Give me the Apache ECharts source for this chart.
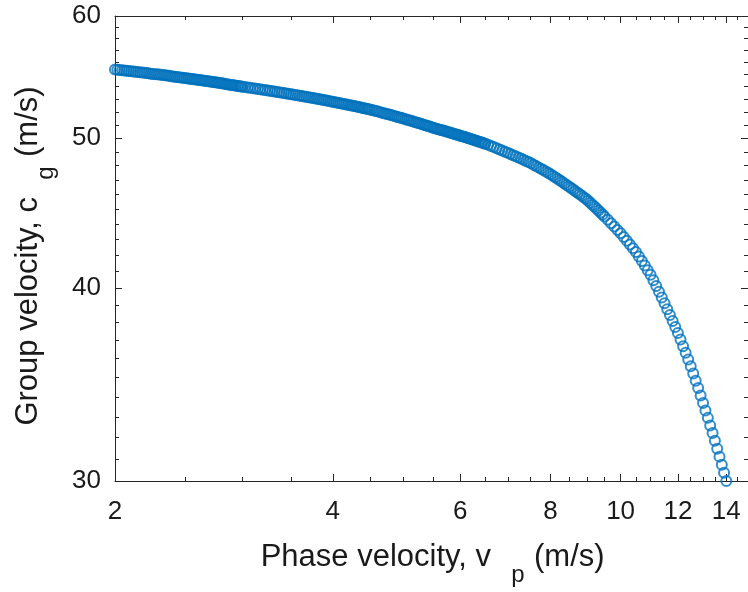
<!DOCTYPE html>
<html>
<head>
<meta charset="utf-8">
<script src="https://cdn.jsdelivr.net/npm/echarts@6/dist/echarts.min.js"></script>
<style>
html,body{margin:0;padding:0;background:#fff;}
#chart{width:748px;height:592px;}
</style>
</head>
<body>
<div id="chart"></div>
<script>
// Phase velocity v_p (m/s)
const phaseVelocity = [
2.000,2.015,2.030,2.045,2.060,2.075,2.090,2.105,2.120,2.135,2.150,2.165,2.180,2.195,2.210,2.225,2.240,2.255,2.270,2.285,
2.300,2.315,2.330,2.345,2.360,2.375,2.390,2.405,2.420,2.435,2.450,2.465,2.480,2.495,2.510,2.525,2.540,2.555,2.570,2.585,
2.600,2.615,2.630,2.645,2.660,2.675,2.690,2.705,2.720,2.735,2.750,2.765,2.780,2.795,2.810,2.825,2.840,2.855,2.870,2.885,
2.900,2.915,2.930,2.945,2.960,2.975,2.990,
3.000,3.025,3.050,3.075,3.100,3.125,3.150,3.175,3.200,3.225,3.250,3.275,3.300,3.325,3.350,3.375,3.400,3.425,3.450,3.475,
3.500,3.525,3.550,3.575,3.600,3.625,3.650,3.675,3.700,3.725,3.750,3.775,3.800,3.825,3.850,3.875,3.900,3.925,3.950,3.975,
4.000,4.025,4.050,4.075,4.100,4.125,4.150,4.175,4.200,4.225,4.250,4.275,4.300,4.325,4.350,4.375,4.400,4.425,4.450,4.475,
4.50,4.53,4.56,4.59,4.62,4.65,4.68,4.71,4.74,4.77,4.80,4.83,4.86,4.89,4.92,4.95,4.98,5.01,5.04,5.07,
5.10,5.13,5.16,5.19,5.22,5.25,5.28,5.31,5.34,5.37,5.40,5.43,5.46,5.49,5.52,5.55,5.58,5.61,5.64,5.67,
5.70,5.73,5.76,5.79,5.82,5.85,5.88,5.91,5.94,5.97,6.00,6.03,6.06,6.09,6.12,6.15,6.18,6.21,6.24,6.27,
6.30,6.33,6.36,6.39,6.42,6.45,6.48,
6.50,6.56,6.62,6.68,6.74,6.80,6.86,6.92,6.98,7.04,7.10,7.16,7.22,7.28,7.34,7.40,7.46,7.52,7.58,7.64,
7.70,7.76,7.82,7.88,7.94,8.00,8.06,8.12,8.18,8.24,8.30,8.36,8.42,8.48,8.54,8.60,8.66,8.72,8.78,8.84,
8.90,8.96,9.02,9.08,9.14,9.20,9.26,9.32,9.38,9.44,
9.5,9.6,9.7,9.8,9.9,10.0,10.1,10.2,10.3,10.4,10.5,10.6,10.7,10.8,10.9,11.0,11.1,11.2,11.3,11.4,
11.5,11.6,11.7,11.8,11.9,12.0,12.1,12.2,12.3,12.4,12.5,12.6,12.7,12.8,12.9,13.0,13.1,13.2,13.3,13.4,
13.5,13.6,13.7,13.8,13.9,14.0
];
// Group velocity c_g (m/s)
const groupVelocity = [
55.40,55.38,55.36,55.34,55.32,55.30,55.27,55.25,55.23,55.21,55.19,55.17,55.15,55.13,55.11,55.09,55.06,55.04,55.02,55.00,
54.98,54.96,54.94,54.92,54.90,54.88,54.85,54.83,54.81,54.79,54.77,54.75,54.73,54.71,54.69,54.67,54.64,54.62,54.60,54.58,
54.56,54.54,54.52,54.50,54.48,54.46,54.43,54.41,54.39,54.37,54.35,54.33,54.31,54.29,54.27,54.25,54.22,54.20,54.18,54.16,
54.14,54.12,54.10,54.08,54.06,54.04,54.01,
54.00,53.97,53.94,53.91,53.88,53.85,53.82,53.79,53.76,53.73,53.70,53.67,53.64,53.61,53.58,53.55,53.52,53.49,53.46,53.43,
53.40,53.37,53.34,53.31,53.28,53.25,53.22,53.19,53.16,53.13,53.10,53.07,53.04,53.01,52.98,52.95,52.92,52.89,52.86,52.83,
52.80,52.77,52.74,52.71,52.68,52.65,52.62,52.59,52.56,52.53,52.50,52.47,52.44,52.41,52.38,52.35,52.32,52.29,52.26,52.23,
52.20,52.16,52.12,52.07,52.03,51.99,51.95,51.91,51.86,51.82,51.78,51.74,51.70,51.65,51.61,51.57,51.53,51.49,51.44,51.40,
51.36,51.32,51.28,51.23,51.19,51.15,51.11,51.07,51.02,50.98,50.94,50.90,50.86,50.81,50.78,50.74,50.70,50.67,50.63,50.60,
50.56,50.52,50.49,50.45,50.42,50.38,50.34,50.31,50.27,50.24,50.20,50.16,50.13,50.09,50.06,50.02,49.98,49.95,49.91,49.88,
49.84,49.80,49.77,49.73,49.70,49.66,49.62,
49.60,49.52,49.43,49.35,49.26,49.18,49.10,49.01,48.93,48.84,48.76,48.68,48.59,48.51,48.42,48.34,48.26,48.17,48.07,47.98,
47.88,47.78,47.69,47.59,47.50,47.40,47.29,47.18,47.08,46.97,46.86,46.75,46.64,46.54,46.43,46.32,46.21,46.10,46.00,45.89,
45.78,45.67,45.56,45.42,45.29,45.16,45.03,44.90,44.76,44.63,
44.50,44.28,44.06,43.84,43.62,43.40,43.16,42.92,42.68,42.44,42.20,41.92,41.64,41.36,41.08,40.80,40.46,40.12,39.78,39.44,
39.10,38.76,38.42,38.08,37.74,37.40,37.04,36.68,36.32,35.96,35.60,35.22,34.84,34.46,34.08,33.70,33.33,32.96,32.59,32.22,
31.85,31.48,31.11,30.74,30.37,30.00
];
const xMajorTicks = [2, 4, 6, 8, 10, 12, 14];
const xMinorTicks = [2.5, 3, 3.5, 4.5, 5, 5.5, 6.5, 7, 7.5, 8.5, 9, 9.5, 10.5, 11, 11.5, 12.5, 13, 13.5, 14.5];
const yMajorTicks = [30, 40, 50, 60];
const yMinorTicks = [31,32,33,34,35,36,37,38,39,41,42,43,44,45,46,47,48,49,51,52,53,54,55,56,57,58,59];
const xRange = [2, 15];
const yRange = [30, 60];
const xTitle = 'Phase velocity, v';
const xSub = 'p';
const yTitle = 'Group velocity, c';
const ySub = 'g';
const unitText = '(m/s)';

const AX = '#262626';
const FONT = 'Liberation Sans, Arial, sans-serif';

function xAx(pos, ticks, len, showLine, labels) {
  return {
    type: 'log', logBase: 10, min: xRange[0], max: xRange[1], position: pos, gridIndex: 0,
    axisLine: {show: showLine, lineStyle: {color: AX, width: 1}},
    axisTick: {show: true, inside: true, length: len, customValues: ticks, lineStyle: {color: AX, width: 1}},
    axisLabel: labels ? {show: true, customValues: ticks, margin: 18, color: '#1a1a1a', fontSize: 26, fontFamily: FONT,
      formatter: v => String(Math.round(v))} : {show: false},
    splitLine: {show: false}, minorTick: {show: false}, minorSplitLine: {show: false}
  };
}
function yAx(pos, ticks, len, showLine, labels) {
  return {
    type: 'log', logBase: 10, min: yRange[0], max: yRange[1], position: pos, gridIndex: 0,
    axisLine: {show: showLine, lineStyle: {color: AX, width: 1}},
    axisTick: {show: true, inside: true, length: len, customValues: ticks, lineStyle: {color: AX, width: 1}},
    axisLabel: labels ? {show: true, customValues: ticks, margin: 14, color: '#1a1a1a', fontSize: 26, fontFamily: FONT,
      formatter: v => String(Math.round(v))} : {show: false},
    splitLine: {show: false}, minorTick: {show: false}, minorSplitLine: {show: false}
  };
}

const points = phaseVelocity.map((v, i) => [v, groupVelocity[i]]);

const chart = echarts.init(document.getElementById('chart'), null, {renderer: 'canvas'});
chart.setOption({
  animation: false,
  backgroundColor: '#ffffff',
  grid: {left: 115, top: 16, right: -2, bottom: 111, containLabel: false},
  xAxis: [
    xAx('bottom', xMajorTicks, 7, true, true),
    xAx('bottom', xMinorTicks, 4, false, false),
    xAx('top', xMajorTicks, 7, true, false),
    xAx('top', xMinorTicks, 4, false, false)
  ],
  yAxis: [
    yAx('left', yMajorTicks, 7, true, true),
    yAx('left', yMinorTicks, 4, false, false),
    yAx('right', yMajorTicks, 7, true, false),
    yAx('right', yMinorTicks, 4, false, false)
  ],
  series: [{
    type: 'scatter',
    xAxisIndex: 0, yAxisIndex: 0,
    data: points,
    symbol: 'circle',
    symbolSize: 10,
    clip: false,
    itemStyle: {color: 'rgba(0,0,0,0)', borderColor: '#0072BD', borderWidth: 2},
    emphasis: {disabled: true}
  }],
  graphic: [
    {type: 'text', x: 491, y: 557, style: {text: xTitle, font: '31px ' + FONT, fill: '#1a1a1a', textAlign: 'right', textVerticalAlign: 'middle'}},
    {type: 'text', x: 518, y: 575, style: {text: xSub, font: '24px ' + FONT, fill: '#1a1a1a', textAlign: 'center', textVerticalAlign: 'middle'}},
    {type: 'text', x: 534, y: 557, style: {text: unitText, font: '31px ' + FONT, fill: '#1a1a1a', textAlign: 'left', textVerticalAlign: 'middle'}},
    {type: 'text', x: 28, y: 197, rotation: Math.PI / 2, style: {text: yTitle, font: '31px ' + FONT, fill: '#1a1a1a', textAlign: 'right', textVerticalAlign: 'middle'}},
    {type: 'text', x: 46, y: 173, rotation: Math.PI / 2, style: {text: ySub, font: '24px ' + FONT, fill: '#1a1a1a', textAlign: 'center', textVerticalAlign: 'middle'}},
    {type: 'text', x: 28, y: 157, rotation: Math.PI / 2, style: {text: unitText, font: '31px ' + FONT, fill: '#1a1a1a', textAlign: 'left', textVerticalAlign: 'middle'}}
  ]
});
</script>
</body>
</html>
